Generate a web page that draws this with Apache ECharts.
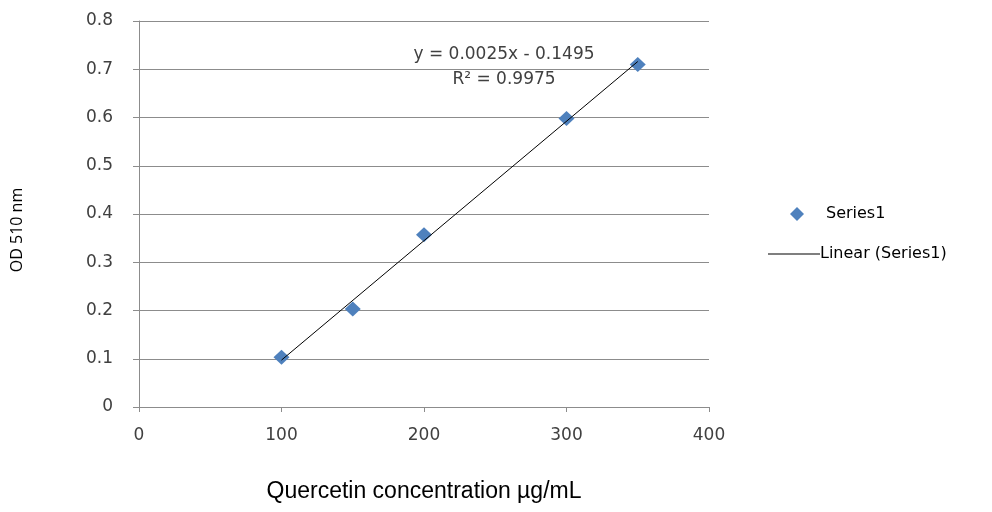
<!DOCTYPE html>
<html>
<head>
<meta charset="utf-8">
<script src="https://cdn.jsdelivr.net/npm/echarts@6/dist/echarts.min.js"></script>
<style>html,body{margin:0;padding:0;background:#fff}#c{width:992px;height:512px}</style>
</head>
<body>
<div id="c"></div>
<script>
var concentrations = [100, 150, 200, 300, 350];
var odValues = [0.103, 0.203, 0.357, 0.598, 0.71];
var trendRange = [100, 350];
var equationText = 'y = 0.0025x - 0.1495';
var r2Text = 'R² = 0.9975';
var xTicks = [0, 100, 200, 300, 400];
var yTicks = [0, 0.1, 0.2, 0.3, 0.4, 0.5, 0.6, 0.7, 0.8];

// least-squares linear trendline (as Excel's "Linear (Series1)")
var n = concentrations.length, mx = 0, my = 0;
concentrations.forEach(function (x, i) { mx += x; my += odValues[i]; });
mx /= n; my /= n;
var sxy = 0, sxx = 0;
concentrations.forEach(function (x, i) { sxy += (x - mx) * (odValues[i] - my); sxx += (x - mx) * (x - mx); });
var slope = sxy / sxx, intercept = my - slope * mx;
var trendData = trendRange.map(function (x) { return [x, slope * x + intercept]; });

var chart = echarts.init(document.getElementById('c'));
var tickFont = 'DejaVu Sans';

chart.setOption({
  animation: false,
  grid: { left: 139, right: 283, top: 21, bottom: 105, outerBoundsMode: 'none' },
  xAxis: {
    type: 'value', min: xTicks[0], max: xTicks[xTicks.length - 1], interval: 100,
    axisLine: { lineStyle: { color: '#8c8c8c', width: 1 } },
    axisTick: { show: true, length: 5, lineStyle: { color: '#8c8c8c' } },
    splitLine: { show: false },
    axisLabel: { color: '#404040', fontFamily: tickFont, fontSize: 17, margin: 20 },
    name: 'Quercetin concentration µg/mL', nameLocation: 'middle', nameGap: 73,
    nameTextStyle: { fontFamily: 'Liberation Sans', fontSize: 23, color: '#000' }
  },
  yAxis: {
    type: 'value', min: yTicks[0], max: yTicks[yTicks.length - 1], interval: 0.1,
    axisLine: { show: true, lineStyle: { color: '#8c8c8c', width: 1 } },
    axisTick: { show: true, length: 6, lineStyle: { color: '#8c8c8c' } },
    splitLine: { show: true, lineStyle: { color: '#8c8c8c', width: 1 } },
    axisLabel: { color: '#404040', fontFamily: tickFont, fontSize: 17, margin: 26,
      formatter: function (v) { return v === 0 ? '0' : v.toFixed(1); } }
  },
  legend: [
    { data: [{ name: 'Series1', icon: 'diamond' }], orient: 'vertical', left: 790, top: 206, padding: 0,
      itemWidth: 14, itemHeight: 14, itemGap: 8,
      textStyle: { fontFamily: tickFont, fontSize: 16, color: '#000', padding: [0, 0, 0, 17] } },
    { data: [{ name: 'Linear (Series1)', icon: 'path://M0,0h52v1h-52z' }], orient: 'vertical', left: 768, top: 246, padding: 0,
      itemWidth: 52, itemHeight: 13, itemGap: 0, symbolKeepAspect: true,
      textStyle: { fontFamily: tickFont, fontSize: 16, color: '#000', padding: [0, 0, 0, -5] } }
  ],
  graphic: [
    { type: 'text', x: 504, y: 55, style: { text: equationText, fontFamily: tickFont, fontSize: 17, fill: '#404040', align: 'center', verticalAlign: 'middle' } },
    { type: 'text', x: 504, y: 80, style: { text: r2Text, fontFamily: tickFont, fontSize: 17, fill: '#404040', align: 'center', verticalAlign: 'middle' } },
    { type: 'text', x: 17, y: 230, rotation: Math.PI / 2, style: { text: 'OD 510 nm', fontFamily: 'Open Sans', fontSize: 16, fill: '#000', align: 'center', verticalAlign: 'middle' } }
  ],
  series: [
    {
      name: 'Linear (Series1)', type: 'line', data: trendData, symbol: 'none',
      color: '#000', itemStyle: { color: '#000' },
      lineStyle: { color: '#000', width: 1 }, z: 3
    },
    {
      name: 'Series1', type: 'scatter', data: concentrations.map(function (x, i) { return [x, odValues[i]]; }),
      symbol: 'diamond', symbolSize: [16, 15],
      itemStyle: { color: '#4f81bd', opacity: 1 }, z: 2
    }
  ]
});
</script>
</body>
</html>
